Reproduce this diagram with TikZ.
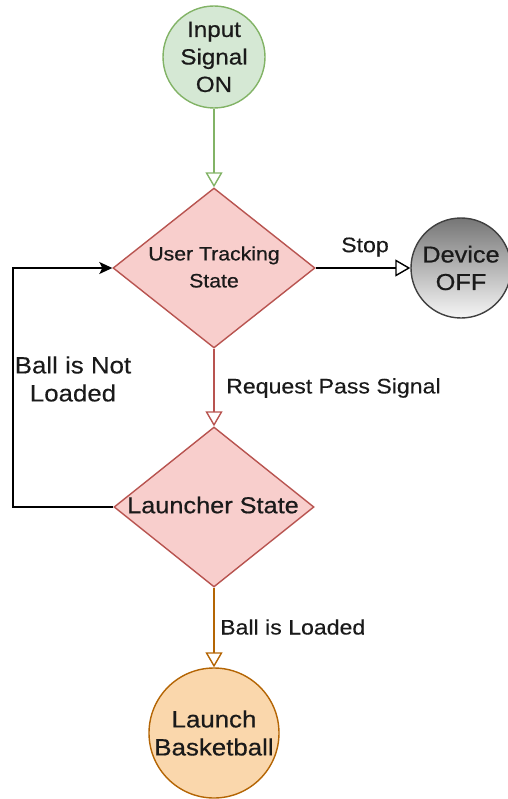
\documentclass[tikz,border=0pt]{standalone}
\usepackage{fontspec}
\setmainfont{Liberation Sans}[FakeStretch=1.1, FakeBold=0.3]
\newfontfamily\nodefont{Liberation Sans}[FakeStretch=1.1, FakeBold=0.6]
\usetikzlibrary{shapes.geometric,arrows.meta}
\definecolor{gfill}{HTML}{D5E8D4}
\definecolor{gline}{HTML}{82B366}
\definecolor{rfill}{HTML}{F8CECC}
\definecolor{rline}{HTML}{B85450}
\definecolor{ofill}{HTML}{FAD7AC}
\definecolor{oline}{HTML}{B46504}
\definecolor{txt}{HTML}{1A1A1A}
\tikzset{
  every node/.style={text=txt},
  statecircle/.style={circle, inner sep=0pt, line width=1.4pt, align=center},
  decision/.style={diamond, inner sep=0pt, line width=1.4pt, draw=rline, fill=rfill},
  flow/.style={line width=1.4pt, -{Triangle[open, length=15pt, width=17pt]}},
  edgelabel/.style={inner sep=0pt, align=center, font=\fontsize{21}{28}\selectfont},
}
\begin{document}
\begin{tikzpicture}[x=1pt, y=-1pt]
  \useasboundingbox (0,0) rectangle (507,799);

  % states
  \node[statecircle, draw=gline, fill=gfill, minimum size=102pt, font=\nodefont\fontsize{22}{27.5}\selectfont] (in) at (214,57) {Input\\Signal\\ON};
  \node[decision, minimum width=202pt, minimum height=160pt] (ut) at (214,268) {};
  \node[align=center, inner sep=0pt, font=\nodefont\fontsize{19.3}{27}\selectfont] (utl) at (214,267) {User Tracking\\State};
  \node[statecircle, draw=black!75, top color={rgb,255:red,118;green,118;blue,118}, bottom color={rgb,255:red,246;green,246;blue,246}, minimum size=100pt, font=\nodefont\fontsize{23}{27.5}\selectfont] (off) at (461,268) {Device\\OFF};
  \node[decision, minimum width=200pt, minimum height=160pt] (ls) at (214,507) {};
  \node[inner sep=0pt, font=\nodefont\fontsize{23}{28}\selectfont] (lsl) at (213,505) {Launcher State};
  \node[statecircle, draw=oline, fill=ofill, minimum size=130pt, font=\nodefont\fontsize{23.5}{28}\selectfont] (lb) at (214,733) {Launch\\Basketball};

  % transitions
  \draw[flow, gline] (in) -- (ut.north);
  \draw[flow, black] (ut.east) -- (off.west);
  \draw[flow, rline] (ut.south) -- (ls.north);
  \draw[flow, oline] (ls.south) -- (lb.north);
  \coordinate (fb) at (13,507);
  \draw[line width=1.4pt, black, -{Stealth[length=13pt, width=12pt, inset=3pt]}] (ls.west) -- (fb) |- (ut.west);

  % transition labels
  \node[edgelabel] (stop) at (365,247) {Stop};
  \node[edgelabel, anchor=west] (req) at (226,388) {Request Pass Signal};
  \node[edgelabel, anchor=west] (loaded) at (220,627) {Ball is Loaded};
  \node[edgelabel, font=\fontsize{23.5}{28}\selectfont] (notloaded) at (73,379) {Ball is Not\\Loaded};
\end{tikzpicture}
\end{document}
